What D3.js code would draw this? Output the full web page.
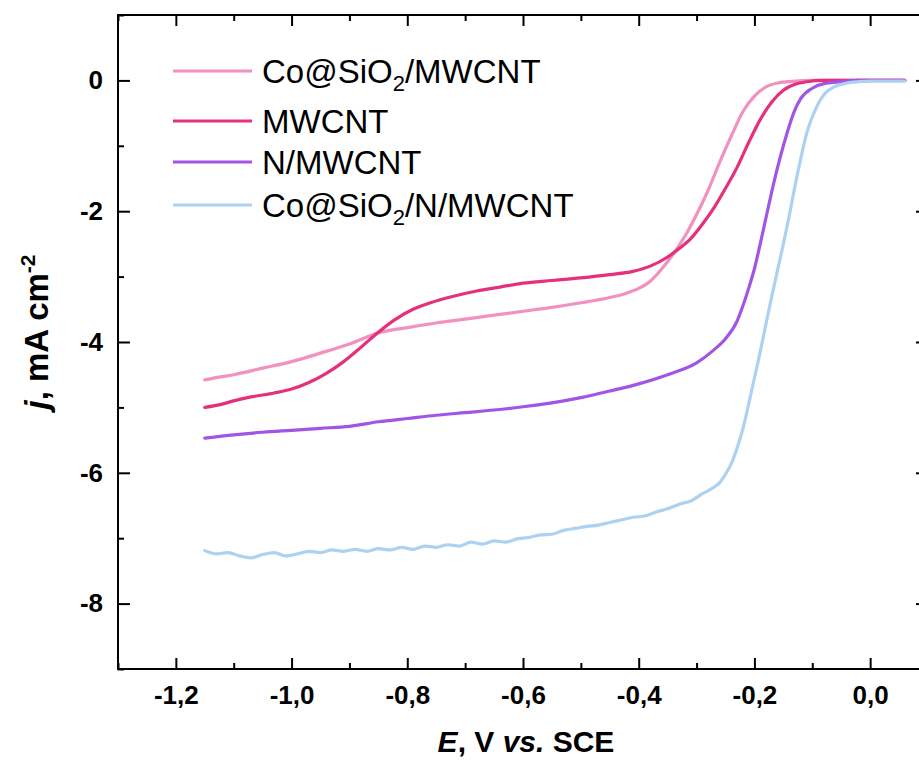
<!DOCTYPE html>
<html>
<head>
<meta charset="utf-8">
<script src="https://cdn.jsdelivr.net/npm/d3@7"></script>
<style>
  html, body { margin: 0; padding: 0; background: #fff; }
  svg { display: block; }
  text { font-family: "Liberation Sans", Arial, Helvetica, sans-serif; fill: #000; }
</style>
</head>
<body>
<svg id="chart" width="919" height="762"></svg>
<script>
// ---------------- DATA ----------------
const seriesNames = ["Co@SiO2/MWCNT", "MWCNT", "N/MWCNT", "Co@SiO2/N/MWCNT"];

const coSiO2MWCNT = [
  [-1.15,-4.58],[-1.12,-4.53],[-1.10,-4.50],[-1.05,-4.40],[-1.00,-4.30],[-0.95,-4.17],
  [-0.90,-4.03],[-0.85,-3.86],[-0.80,-3.78],[-0.75,-3.71],[-0.70,-3.65],[-0.65,-3.59],
  [-0.60,-3.53],[-0.55,-3.47],[-0.50,-3.40],[-0.45,-3.32],[-0.42,-3.25],[-0.40,-3.18],
  [-0.38,-3.07],[-0.36,-2.88],[-0.34,-2.65],[-0.32,-2.38],[-0.30,-2.05],[-0.28,-1.68],
  [-0.26,-1.25],[-0.24,-0.85],[-0.22,-0.48],[-0.20,-0.24],[-0.18,-0.10],[-0.16,-0.04],
  [-0.14,-0.02],[-0.10,0.00],[0.06,0.00]
];

const mwcnt = [
  [-1.15,-5.00],[-1.12,-4.95],[-1.10,-4.90],[-1.07,-4.84],[-1.03,-4.78],[-1.00,-4.72],
  [-0.97,-4.62],[-0.94,-4.48],[-0.91,-4.30],[-0.88,-4.08],[-0.85,-3.85],[-0.82,-3.65],
  [-0.79,-3.50],[-0.76,-3.40],[-0.72,-3.30],[-0.68,-3.22],[-0.64,-3.16],[-0.60,-3.10],
  [-0.55,-3.06],[-0.50,-3.02],[-0.45,-2.97],[-0.41,-2.92],[-0.38,-2.84],[-0.35,-2.70],
  [-0.33,-2.57],[-0.31,-2.42],[-0.29,-2.20],[-0.27,-1.95],[-0.25,-1.65],[-0.23,-1.33],
  [-0.21,-0.95],[-0.19,-0.60],[-0.17,-0.33],[-0.15,-0.15],[-0.13,-0.06],[-0.11,-0.02],
  [-0.08,0.00],[0.06,0.00]
];

const nMWCNT = [
  [-1.15,-5.47],[-1.10,-5.42],[-1.05,-5.38],[-1.00,-5.35],[-0.95,-5.32],[-0.90,-5.29],
  [-0.85,-5.22],[-0.80,-5.17],[-0.75,-5.12],[-0.70,-5.08],[-0.65,-5.04],[-0.60,-4.99],
  [-0.55,-4.93],[-0.50,-4.85],[-0.45,-4.75],[-0.40,-4.64],[-0.35,-4.50],[-0.30,-4.32],
  [-0.27,-4.12],[-0.25,-3.95],[-0.23,-3.68],[-0.22,-3.45],[-0.21,-3.18],[-0.20,-2.88],
  [-0.19,-2.50],[-0.18,-2.10],[-0.17,-1.70],[-0.16,-1.33],[-0.15,-1.00],[-0.14,-0.70],
  [-0.13,-0.45],[-0.12,-0.28],[-0.10,-0.12],[-0.08,-0.05],[-0.05,-0.02],[-0.02,0.00],
  [0.06,0.00]
];

const coSiO2NMWCNT = [
  [-1.15,-7.19],[-1.13,-7.24],[-1.11,-7.22],[-1.09,-7.27],[-1.07,-7.30],[-1.05,-7.25],
  [-1.03,-7.22],[-1.01,-7.27],[-0.99,-7.24],[-0.97,-7.20],[-0.95,-7.22],[-0.93,-7.18],
  [-0.91,-7.20],[-0.89,-7.17],[-0.87,-7.20],[-0.85,-7.16],[-0.83,-7.18],[-0.81,-7.14],
  [-0.79,-7.17],[-0.77,-7.12],[-0.75,-7.14],[-0.73,-7.10],[-0.71,-7.12],[-0.69,-7.06],
  [-0.67,-7.09],[-0.65,-7.04],[-0.63,-7.06],[-0.61,-7.01],[-0.59,-6.99],[-0.57,-6.95],
  [-0.55,-6.94],[-0.53,-6.88],[-0.51,-6.85],[-0.49,-6.82],[-0.47,-6.80],[-0.45,-6.76],
  [-0.43,-6.72],[-0.41,-6.68],[-0.39,-6.66],[-0.37,-6.60],[-0.35,-6.55],[-0.33,-6.48],
  [-0.31,-6.43],[-0.29,-6.32],[-0.27,-6.22],[-0.26,-6.15],[-0.25,-6.02],[-0.24,-5.86],
  [-0.23,-5.62],[-0.22,-5.33],[-0.21,-4.95],[-0.20,-4.55],[-0.19,-4.15],[-0.18,-3.72],
  [-0.17,-3.30],[-0.16,-2.90],[-0.15,-2.50],[-0.14,-2.08],[-0.13,-1.62],[-0.12,-1.20],
  [-0.11,-0.82],[-0.10,-0.56],[-0.09,-0.36],[-0.08,-0.22],[-0.06,-0.09],[-0.04,-0.04],
  [-0.02,-0.02],[0.00,-0.01],[0.06,-0.01]
];

const xTickValues = [-1.2, -1.0, -0.8, -0.6, -0.4, -0.2, 0.0];
const xTickLabels = ["-1,2", "-1,0", "-0,8", "-0,6", "-0,4", "-0,2", "0,0"];
const xMinorTicks = [-1.3, -1.1, -0.9, -0.7, -0.5, -0.3, -0.1, 0.1];
const yTickValues = [0, -2, -4, -6, -8];
const yTickLabels = ["0", "-2", "-4", "-6", "-8"];
const yMinorTicks = [1, -1, -3, -5, -7, -9];

// ---------------- STYLE / LAYOUT ----------------
const colors = ["#f290bf", "#e5307c", "#a155e4", "#acd1f1"];
const allSeries = [coSiO2MWCNT, mwcnt, nMWCNT, coSiO2NMWCNT];
const L = 118, R = 928, T = 15, B = 669;

const svg = d3.select("#chart");
const x = d3.scaleLinear().domain([-1.3, 0.1]).range([L, R]);
const y = d3.scaleLinear().domain([-9, 1]).range([B, T]);

// curves
const line = d3.line().x(d => x(d[0])).y(d => y(d[1])).curve(d3.curveMonotoneX);
const gLines = svg.append("g");
allSeries.forEach((s, i) => {
  gLines.append("path").datum(s)
    .attr("d", line)
    .attr("fill", "none")
    .attr("stroke", colors[i])
    .attr("stroke-width", 3.2)
    .attr("stroke-linejoin", "round")
    .attr("stroke-linecap", "round");
});

// axes helpers
function styleAxis(g) {
  g.select(".domain").remove();
  g.selectAll(".tick line").attr("stroke", "#000").attr("stroke-width", 2);
  g.selectAll(".tick text")
    .attr("font-family", '"Liberation Sans", Arial, sans-serif')
    .attr("font-weight", "bold")
    .attr("font-size", 26)
    .attr("fill", "#000");
}

// bottom major
svg.append("g").attr("transform", `translate(0,${B})`)
  .call(d3.axisBottom(x).tickValues(xTickValues)
    .tickFormat((d, i) => xTickLabels[i]).tickSizeInner(-11).tickSizeOuter(0).tickPadding(17))
  .call(styleAxis);
svg.append("g").attr("transform", `translate(0,${B})`)
  .call(d3.axisBottom(x).tickValues(xMinorTicks).tickFormat("").tickSizeInner(-6).tickSizeOuter(0))
  .call(styleAxis);
// top
svg.append("g").attr("transform", `translate(0,${T})`)
  .call(d3.axisTop(x).tickValues(xTickValues).tickFormat("").tickSizeInner(-11).tickSizeOuter(0))
  .call(styleAxis);
svg.append("g").attr("transform", `translate(0,${T})`)
  .call(d3.axisTop(x).tickValues(xMinorTicks).tickFormat("").tickSizeInner(-6).tickSizeOuter(0))
  .call(styleAxis);
// left
svg.append("g").attr("transform", `translate(${L},0)`)
  .call(d3.axisLeft(y).tickValues(yTickValues)
    .tickFormat((d, i) => yTickLabels[i]).tickSizeInner(-12).tickSizeOuter(0).tickPadding(15))
  .call(styleAxis);
svg.append("g").attr("transform", `translate(${L},0)`)
  .call(d3.axisLeft(y).tickValues(yMinorTicks).tickFormat("").tickSizeInner(-6).tickSizeOuter(0))
  .call(styleAxis);
// right
svg.append("g").attr("transform", `translate(${R},0)`)
  .call(d3.axisRight(y).tickValues(yTickValues).tickFormat("").tickSizeInner(-12).tickSizeOuter(0))
  .call(styleAxis);
svg.append("g").attr("transform", `translate(${R},0)`)
  .call(d3.axisRight(y).tickValues(yMinorTicks).tickFormat("").tickSizeInner(-6).tickSizeOuter(0))
  .call(styleAxis);

// frame
svg.append("rect").attr("x", L).attr("y", T).attr("width", R - L).attr("height", B - T)
  .attr("fill", "none").attr("stroke", "#000").attr("stroke-width", 2);

// axis titles
const xt = svg.append("text").attr("x", 526).attr("y", 752)
  .attr("text-anchor", "middle").attr("font-size", 30).attr("font-weight", "bold");
xt.append("tspan").attr("font-style", "italic").text("E");
xt.append("tspan").text(", V ");
xt.append("tspan").attr("font-style", "italic").text("vs.");
xt.append("tspan").text(" SCE");

const yt = svg.append("text").attr("transform", "translate(48,332) rotate(-90)")
  .attr("text-anchor", "middle").attr("font-size", 33).attr("font-weight", "bold");
yt.append("tspan").attr("font-style", "italic").text("j");
yt.append("tspan").text(", mA cm");
yt.append("tspan").attr("font-size", 21).attr("dy", -13).text("-2");

// legend
const legendY = [71, 121, 162, 205];
const lg = svg.append("g");
seriesNames.forEach((name, i) => {
  lg.append("line").attr("x1", 173).attr("x2", 252)
    .attr("y1", legendY[i]).attr("y2", legendY[i])
    .attr("stroke", colors[i]).attr("stroke-width", 3.2);
  const t = lg.append("text").attr("x", 262).attr("y", legendY[i] + 12)
    .attr("font-size", 33);
  const parts = name.split("2");
  if (parts.length > 1) {
    t.append("tspan").text(parts[0]);
    t.append("tspan").attr("font-size", 22).attr("dy", 8).text("2");
    t.append("tspan").attr("dy", -8).text(parts[1]);
  } else {
    t.text(name);
  }
});
</script>
</body>
</html>
